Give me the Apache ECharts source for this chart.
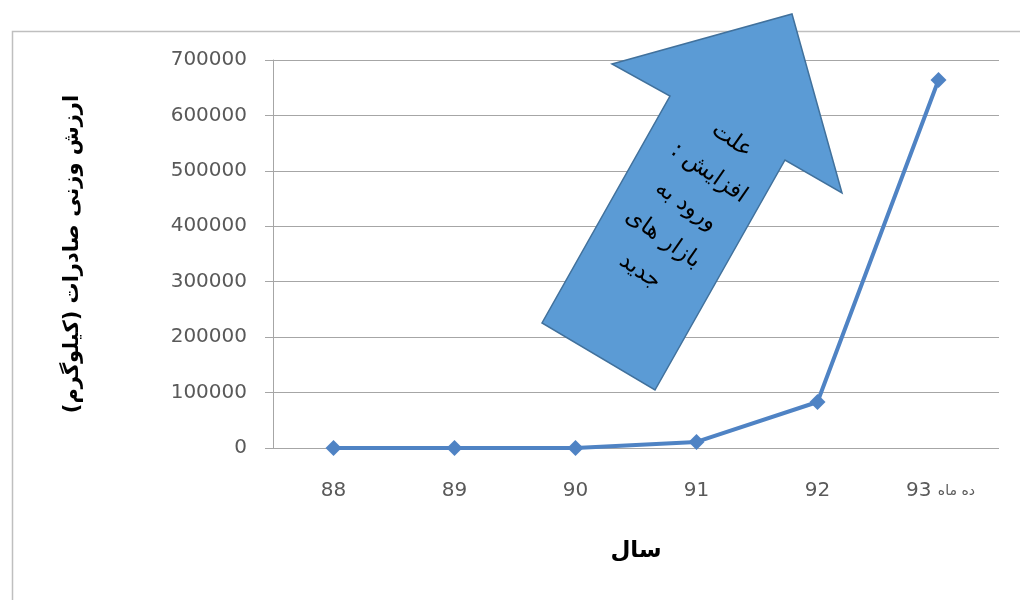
<!DOCTYPE html>
<html>
<head>
<meta charset="utf-8">
<script src="https://cdn.jsdelivr.net/npm/echarts@6/dist/echarts.min.js"></script>
<style>
  html, body { margin: 0; padding: 0; background: #fff; }
  #main { width: 1020px; height: 600px; }
</style>
</head>
<body>
<div id="main"></div>
<script>
const years = ["88", "89", "90", "91", "92", "93"];
const exportsKg = [0, 0, 0, 11000, 83000, 664000];
const yTicks = { min: 0, max: 700000, interval: 100000 };
// RLM at end keeps the colon on the left in an LTR canvas
const arrowNote = ["علت", "افزایش :\u200F", "ورود به", "بازار های", "جدید"];

const chart = echarts.init(document.getElementById("main"));
const persianFont = "DejaVu Sans";
const labelFont = "DejaVu Sans";

const option = {
  animation: false,
  grid: { left: 273, right: 21, top: 60, bottom: 152 },
  xAxis: {
    type: "category",
    data: years,
    boundaryGap: true,
    name: "سال",
    nameLocation: "middle",
    nameGap: 92,
    nameTextStyle: { fontFamily: persianFont, fontWeight: "bold", fontSize: 23, color: "#000" },
    axisLine: { show: false },
    axisTick: { show: false },
    axisLabel: {
      interval: 0,
      margin: 33,
      color: "#595959",
      fontFamily: labelFont,
      fontSize: 20,
      formatter: (v, i) => i === years.length - 1 ? "{b|" + v + "} {s|ده ماه}" : v,
      rich: {
        b: { fontFamily: labelFont, fontSize: 20, color: "#595959", padding: [0, 0, 0, 4] },
        s: { fontFamily: persianFont, fontSize: 14, color: "#595959", padding: [0, 0, 0, 0] }
      }
    }
  },
  yAxis: {
    type: "value",
    min: yTicks.min,
    max: yTicks.max,
    interval: yTicks.interval,
    name: "ارزش وزنی صادرات (کیلوگرم)",
    nameLocation: "middle",
    nameRotate: 90,
    nameGap: 190,
    nameTextStyle: { fontFamily: persianFont, fontWeight: "bold", fontSize: 21, color: "#000" },
    axisLine: { show: true, lineStyle: { color: "#a6a6a6", width: 1 } },
    axisTick: { show: true, length: 8, lineStyle: { color: "#a6a6a6" } },
    axisLabel: {
      margin: 26,
      color: "#595959",
      fontFamily: labelFont,
      fontSize: 20,
      formatter: v => String(v)
    },
    splitLine: { lineStyle: { color: "#a6a6a6", width: 1 } }
  },
  series: [{
    type: "line",
    data: exportsKg,
    symbol: "diamond",
    symbolSize: 16,
    lineStyle: { color: "#4f83c4", width: 4 },
    itemStyle: { color: "#4f83c4" },
    z: 3
  }],
  graphic: [
    {
      type: "rect",
      shape: { x: 12.5, y: 31.5, width: 1100, height: 700 },
      style: { fill: null, stroke: "#bfbfbf", lineWidth: 1.5 },
      silent: true,
      z: -10
    },
    {
      type: "polygon",
      shape: {
        points: [[792, 14], [842, 193], [785, 160], [655, 390], [542, 323], [670, 96], [612, 64]]
      },
      style: { fill: "#5b9bd5", stroke: "#41719c", lineWidth: 1.5 },
      z: 100
    },
    {
      type: "text",
      x: 686,
      y: 206,
      rotation: -35 * Math.PI / 180,
      style: {
        text: arrowNote.join("\n"),
        fontFamily: persianFont,
        fontSize: 23,
        lineHeight: 40,
        fill: "#000",
        align: "center",
        verticalAlign: "middle"
      },
      z: 101
    }
  ]
};

chart.setOption(option);
</script>
</body>
</html>
